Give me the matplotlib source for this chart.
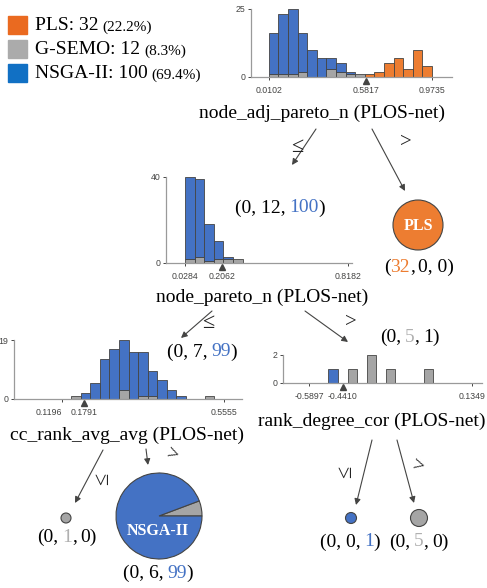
import numpy as np
import matplotlib
matplotlib.use("Agg")
import matplotlib.pyplot as plt
from matplotlib.patches import Circle, Wedge, Rectangle
from matplotlib import transforms

# class names / colours
classes = ["PLS", "G-SEMO", "NSGA-II"]
class_n = [32, 12, 100]
class_pct = ["(22.2%)", "(8.3%)", "(69.4%)"]
bar_colors = ["#ED7D31", "#A5A5A5", "#4472C4"]
legend_colors = ["#EA6A20", "#ABABAB", "#1170C4"]

# split nodes: feature, range, split value, per-class bin counts (17 bins)
root_feat = "node_adj_pareto_n (PLOS-net)"
root_range = (0.0102, 0.9735)
root_split = 0.5817
root_pls = [0, 0, 0, 0, 0, 0, 0, 0, 0, 0, 1, 2, 5, 7, 3, 10, 4]
root_gsemo = [1, 1, 1, 2, 0, 0, 3, 2, 1, 1, 0, 0, 0, 0, 0, 0, 0]
root_nsga = [15, 22, 24, 14, 10, 7, 4, 3, 1, 0, 0, 0, 0, 0, 0, 0, 0]

n2_feat = "node_pareto_n (PLOS-net)"
n2_range = (0.0284, 0.8182)
n2_split = 0.2062
n2_pls = [0] * 17
n2_gsemo = [2, 3, 1, 2, 2, 2, 0, 0, 0, 0, 0, 0, 0, 0, 0, 0, 0]
n2_nsga = [38, 36, 17, 8, 1, 0, 0, 0, 0, 0, 0, 0, 0, 0, 0, 0, 0]

n3_feat = "cc_rank_avg_avg (PLOS-net)"
n3_range = (0.1196, 0.5555)
n3_split = 0.1791
n3_pls = [0] * 17
n3_gsemo = [0, 1, 0, 0, 0, 0, 3, 0, 1, 1, 0, 0, 0, 0, 0, 1, 0]
n3_nsga = [0, 0, 2, 5, 13, 16, 16, 15, 14, 8, 6, 3, 1, 0, 0, 0, 0]

n4_feat = "rank_degree_cor (PLOS-net)"
n4_range = (-0.5897, 0.1349)
n4_split = -0.4410
n4_pls = [0] * 17
n4_gsemo = [0, 0, 0, 0, 1, 0, 2, 0, 1, 0, 0, 0, 1, 0, 0, 0, 0]
n4_nsga = [0, 0, 1, 0, 0, 0, 0, 0, 0, 0, 0, 0, 0, 0, 0, 0, 0]

# leaf counts (PLS, G-SEMO, NSGA-II)
leaf_pls = [32, 0, 0]
leaf_a = [0, 1, 0]
leaf_b = [0, 6, 99]
leaf_c = [0, 0, 1]
leaf_d = [0, 5, 0]

W, H = 487, 588
SERIF = ["Liberation Serif", "DejaVu Serif"]
SANS = ["Liberation Sans", "DejaVu Sans"]
EDGE = "#444443"

fig = plt.figure(figsize=(W / 100, H / 100), dpi=100)
ax0 = fig.add_axes([0, 0, 1, 1])
ax0.set_xlim(0, W)
ax0.set_ylim(H, 0)
ax0.axis("off")
renderer = fig.canvas.get_renderer()


def rect(x0, y0, x1, y1):
    return [x0 / W, 1 - y1 / H, (x1 - x0) / W, (y1 - y0) / H]


def hist_node(box, lo_px, hi_px, rng, split, ymax, counts):
    x0, y0, x1, y1 = box
    lo, hi = rng
    ax = fig.add_axes(rect(x0, y0, x1, y1))
    ax.patch.set_visible(False)
    sc = (hi - lo) / (hi_px - lo_px)
    ax.set_xlim(lo - (lo_px - x0) * sc, hi + (x1 - hi_px) * sc)
    ax.set_ylim(0, ymax)
    wd = (hi - lo) / 17
    lefts = lo + np.arange(17) * wd
    bottom = np.zeros(17)
    for cnt, col in zip(counts, bar_colors):
        cnt = np.array(cnt, float)
        m = cnt > 0
        ax.bar(lefts[m], cnt[m], wd, bottom=bottom[m], align="edge",
               color=col, edgecolor=EDGE, linewidth=0.6)
        bottom += cnt
    for s in ["top", "right"]:
        ax.spines[s].set_visible(False)
    for s in ["left", "bottom"]:
        ax.spines[s].set_color("#9a9a9a")
        ax.spines[s].set_linewidth(0.9)
    ax.set_xticks([lo, split, hi])
    ax.set_xticklabels(["%.4f" % lo, "%.4f" % split, "%.4f" % hi])
    ax.xaxis.get_major_ticks()[1].tick1line.set_visible(False)
    ax.set_yticks([0, ymax])
    ax.tick_params(labelsize=6.3, colors=EDGE, width=0.7)
    ax.tick_params(axis="x", length=2.5, pad=4)
    ax.tick_params(axis="y", length=2.5, pad=1.5)
    for lab in ax.get_xticklabels() + ax.get_yticklabels():
        lab.set_family(SANS)
    tr = transforms.offset_copy(ax.get_xaxis_transform(), fig=fig, y=-3.5, units="dots")
    ax.plot([split], [0], marker="^", color=EDGE, markersize=5,
            transform=tr, clip_on=False)
    return ax


def multitext(x, y, parts, size, gap=3.5, weight="normal"):
    # parts: list of (string, colour, leading gap)
    arts, widths = [], []
    for s, c, g in parts:
        t = ax0.text(0, y, s, color=c, fontsize=size, family=SERIF,
                     ha="left", va="center", weight=weight)
        arts.append(t)
        widths.append(t.get_window_extent(renderer).width + (gap if g else 0))
    cur = x - sum(widths) / 2
    for (s, c, g), t, w in zip(parts, arts, widths):
        if g:
            cur += gap
        t.set_x(cur)
        cur += w - (gap if g else 0)


def count_label(x, y, cnts):
    k = int(np.argmax(cnts))
    txt = [str(v) for v in cnts]
    cols = ["#ED7D31", "#b0b0b0", "#4472C4"]
    parts = []
    pre = "(" + ", ".join(txt[:k]) + ("," if k > 0 else "")
    parts.append((pre, "black", False))
    parts.append((txt[k], cols[k], k > 0))
    if k < 2:
        parts.append((",", "black", False))
        parts.append((", ".join(txt[k + 1:]) + ")", "black", True))
    else:
        parts.append((")", "black", False))
    multitext(x, y, parts, 14, gap=3.5)


# legend
for i in range(3):
    yc = 25 + 24 * i
    ax0.add_patch(Rectangle((8, yc - 9), 19, 18, color=legend_colors[i]))
    t = ax0.text(35, yc + 1, "%s: %d" % (classes[i], class_n[i]), fontsize=14,
                 family=SERIF, va="center", ha="left")
    w = t.get_window_extent(renderer).width
    ax0.text(35 + w + 4, yc + 2, class_pct[i], fontsize=11, family=SERIF,
             va="center", ha="left")

# split nodes
hist_node((251, 9, 452, 77), 268.7, 432, root_range, root_split, 25,
          [root_pls, root_gsemo, root_nsga])
ax0.text(322, 113, root_feat, fontsize=14, family=SERIF, ha="center", va="center")

hist_node((166, 177, 352, 263), 185, 348, n2_range, n2_split, 40,
          [n2_pls, n2_gsemo, n2_nsga])
ax0.text(262, 297, n2_feat, fontsize=14, family=SERIF, ha="center", va="center")
count_label(280, 208, [0, 12, 100])

ax3 = hist_node((14, 340, 242, 399), 61.7, 224, n3_range, n3_split, 19,
                [n3_pls, n3_gsemo, n3_nsga])
ax3.get_xticklabels()[0].set_horizontalalignment("right")
ax0.text(127, 435, n3_feat, fontsize=14, family=SERIF, ha="center", va="center")
count_label(202, 352, [0, 7, 99])

hist_node((283, 355, 482, 383), 309.3, 471.7, n4_range, n4_split, 2,
          [n4_pls, n4_gsemo, n4_nsga])
ax0.text(372, 421, n4_feat, fontsize=14, family=SERIF, ha="center", va="center")
count_label(410, 337, [0, 5, 1])


def arrow(p0, p1):
    ax0.annotate("", xy=p1, xytext=p0,
                 arrowprops=dict(arrowstyle="-|>", color=EDGE, lw=0.8,
                                 mutation_scale=9, shrinkA=0, shrinkB=0))


def elabel(x, y, s, rot=0, size=15):
    ax0.text(x, y, s, fontsize=size, family=SERIF, ha="center", va="center",
             rotation=rot, color="#222222")


arrow((316, 129), (292, 165))
elabel(297, 147, "≤", size=16)
arrow((372, 129), (405, 191))
elabel(406, 142, ">")

arrow((212, 311), (181, 338))
elabel(208, 324, "≤", size=16)
arrow((305, 311), (348, 342))
elabel(351, 322, ">")

arrow((103, 450), (75, 503))
elabel(104, 479, "≤", rot=90, size=16)
arrow((146, 449), (148, 465))
elabel(172, 456, ">", rot=-20)

arrow((372, 440), (356, 505))
elabel(347, 472, "≤", rot=90, size=16)
arrow((397, 440), (414, 503))
elabel(418, 467, ">", rot=-15)

# leaves
ax0.add_patch(Circle((418, 225), 25, facecolor=bar_colors[0], edgecolor=EDGE, lw=0.8))
ax0.text(418, 226, classes[0], color="white", fontsize=11.5, family=SERIF,
         weight="bold", ha="center", va="center")
count_label(419, 267, leaf_pls)

ax0.add_patch(Circle((66, 518), 5, facecolor=bar_colors[1], edgecolor=EDGE, lw=0.8))
count_label(67, 537, leaf_a)

tot = sum(leaf_b)
ang = 360 * leaf_b[1] / tot
ax0.add_patch(Wedge((159, 516), 43, -ang, 0, facecolor=bar_colors[1], edgecolor=EDGE, lw=0.8))
ax0.add_patch(Wedge((159, 516), 43, 0, 360 - ang, facecolor=bar_colors[2], edgecolor=EDGE, lw=0.8))
ax0.text(158, 531, classes[2], color="white", fontsize=11.5, family=SERIF,
         weight="bold", ha="center", va="center")
count_label(158, 573, leaf_b)

ax0.add_patch(Circle((351, 518), 5.5, facecolor=bar_colors[2], edgecolor=EDGE, lw=0.8))
count_label(350, 542, leaf_c)
ax0.add_patch(Circle((419, 518), 8.5, facecolor=bar_colors[1], edgecolor=EDGE, lw=0.8))
count_label(419, 542, leaf_d)

fig.savefig("out.png", dpi=100)
